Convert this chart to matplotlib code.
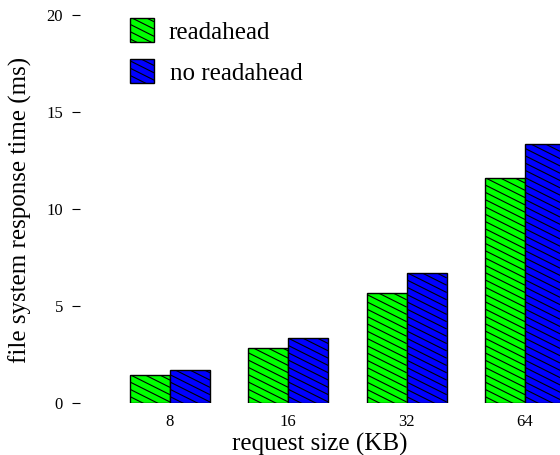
import numpy as np
import matplotlib
matplotlib.use("Agg")
import matplotlib.pyplot as plt
from matplotlib.collections import LineCollection
from matplotlib.patches import Rectangle
from matplotlib.transforms import IdentityTransform

plt.rcParams['font.family'] = ['Liberation Serif', 'DejaVu Serif']

# data
sizes = ['8', '16', '32', '64']
readahead = [1.43, 2.84, 5.64, 11.6]
no_readahead = [1.67, 3.32, 6.67, 13.32]
series_names = ['readahead', 'no readahead']
colors = ['#00ff00', '#0000ff']


def add_hatch(container, patch, spacing=7.3, slope=0.5):
    # slanted hatch lines drawn in pixel space, clipped to the patch
    x0, y0, x1, y1 = patch.get_window_extent().extents
    w = x1 - x0
    segs = []
    c = y0 - (y0 % spacing)
    while c < y1 + slope * w + spacing:
        segs.append([(x0, c), (x1, c - slope * w)])
        c += spacing
    lc = LineCollection(segs, colors='black', linewidths=0.8,
                        transform=IdentityTransform(), zorder=patch.get_zorder() + 0.1)
    if container is None:
        patch.figure.add_artist(lc)
    else:
        container.add_collection(lc, autolim=False)
    lc.set_clip_path(patch)


fig = plt.figure(figsize=(5.6, 4.55), dpi=100)
ax = fig.add_axes([80 / 560, 52.3 / 455, 480 / 560, 388 / 455])

x = np.arange(len(sizes))
width = 0.338
bars1 = ax.bar(x - width / 2, readahead, width, color=colors[0], edgecolor='black', linewidth=1)
bars2 = ax.bar(x + width / 2, no_readahead, width, color=colors[1], edgecolor='black', linewidth=1)

ax.set_xlim(-0.7606, 3.296)
ax.set_ylim(0, 20)
ax.set_yticks([0, 5, 10, 15, 20])
ax.set_xticks(x)
ax.set_xticklabels(sizes)
for s in ax.spines.values():
    s.set_visible(False)
ax.tick_params(axis='y', direction='out', length=5.76, width=0.8, pad=6.5, labelsize=12)
ax.tick_params(axis='x', length=0, pad=8, labelsize=12)

ax.set_xlabel('request size (KB)', fontsize=18, labelpad=2)
fig.text(20 / 560, 1 - 210 / 455, 'file system response time (ms)', rotation=90,
         ha='center', va='center', fontsize=18)

for b in list(bars1) + list(bars2):
    add_hatch(ax, b)

# legend drawn by hand
for i, (name, col) in enumerate(zip(series_names, colors)):
    top = 18.3 + i * 41
    r = Rectangle((130 / 560, 1 - (top + 24) / 455), 24 / 560, 24 / 455,
                  transform=fig.transFigure, facecolor=col, edgecolor='black', linewidth=1)
    fig.add_artist(r)
    add_hatch(None, r)
    fig.text((168 + 2 * i) / 560, 1 - (top + 21) / 455, name, ha='left', va='baseline', fontsize=18)

fig.savefig('out.png', dpi=100)
